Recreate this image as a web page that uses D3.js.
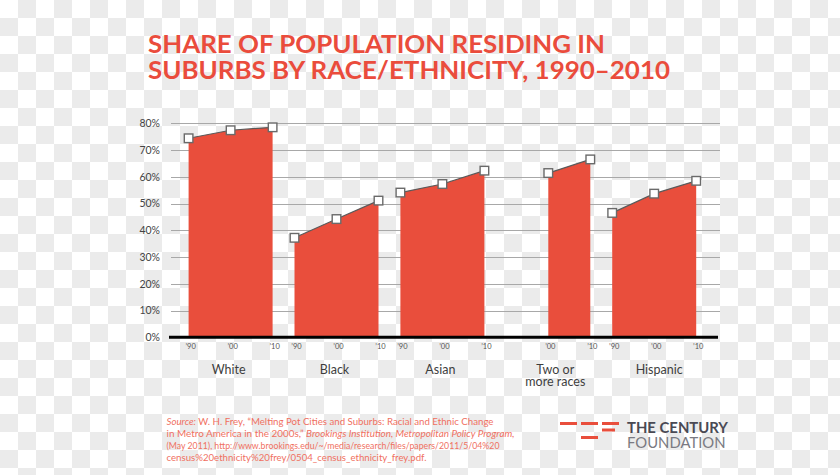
<!DOCTYPE html>
<html><head><meta charset="utf-8">
<script src="https://cdn.jsdelivr.net/npm/d3@7/dist/d3.min.js"></script>
<style>html,body{margin:0;padding:0;overflow:hidden;background:#fff}svg{display:block}</style>
</head><body>
<svg id="c" width="840" height="475"></svg>
<script>
// ---- data ----
const groups = ["White", "Black", "Asian", "Two or more races", "Hispanic"];
const groupLabels = [["White"], ["Black"], ["Asian"], ["Two or", "more races"], ["Hispanic"]];
const years = [1990, 2000, 2010];
const yearLabels = ["\u201990", "\u201900", "\u201910"];
const white = [74.4, 77.4, 78.5];
const black = [37.2, 44.2, 51.1];
const asian = [54.1, 57.3, 62.3];
const twoOrMore = [null, 61.4, 66.5];
const hispanic = [46.5, 53.7, 58.5];
const yTicks = [0, 10, 20, 30, 40, 50, 60, 70, 80];
const titleLines = ["SHARE OF POPULATION RESIDING IN", "SUBURBS BY RACE/ETHNICITY, 1990\u20132010"];

const seriesValues = [white, black, asian, twoOrMore, hispanic];

const RED = "#e94e3c";
const svg = d3.select("#c");

// checkerboard background
const defs = svg.append("defs");
const pat = defs.append("pattern").attr("id", "chk").attr("width", 36).attr("height", 36).attr("patternUnits", "userSpaceOnUse");
pat.append("rect").attr("width", 36).attr("height", 36).attr("fill", "#ffffff");
pat.append("rect").attr("x", 18).attr("y", 0).attr("width", 18).attr("height", 18).attr("fill", "#ebebeb");
pat.append("rect").attr("x", 0).attr("y", 18).attr("width", 18).attr("height", 18).attr("fill", "#ebebeb");
svg.append("rect").attr("width", 840).attr("height", 475).attr("fill", "url(#chk)");

// title
const title = svg.append("text").attr("font-family", "Lato, sans-serif").attr("font-weight", 700)
  .attr("font-size", 24).attr("fill", "#ea4c3c");
title.selectAll("tspan").data(titleLines).join("tspan")
  .attr("x", 148).attr("y", (d, i) => 52.5 + i * 26).text(d => d);
const tl = [457, 522];
title.selectAll("tspan").attr("textLength", (d, i) => tl[i]).attr("lengthAdjust", "spacingAndGlyphs");

// scales
const y = d3.scaleLinear().domain([0, 80]).range([337.3, 123.3]);
const xGroup = d3.scaleBand().domain(groups).range([188.6, 696.2]).paddingInner(0.2068).paddingOuter(0);
const xYear = d3.scalePoint().domain(years).range([0, xGroup.bandwidth()]);

// gridlines + y labels
const grid = svg.append("g");
grid.selectAll("line").data(yTicks.filter(t => t > 0)).join("line")
  .attr("x1", 171).attr("x2", 720)
  .attr("y1", d => Math.round(y(d)) + 0.5).attr("y2", d => Math.round(y(d)) + 0.5)
  .attr("stroke", "#a8a8a8").attr("stroke-width", 1);
grid.selectAll("text").data(yTicks).join("text")
  .attr("x", 160).attr("y", d => y(d) + 3.8).attr("text-anchor", "end")
  .attr("font-family", "Lato, sans-serif").attr("font-size", 10.5).attr("fill", "#444")
  .text(d => d + "%");

// areas
const pts = groups.map((g, gi) => years.map((yr, yi) => ({g, yr, yi, v: seriesValues[gi][yi]})).filter(p => p.v != null));
const area = d3.area().x(d => xGroup(d.g) + xYear(d.yr)).y0(y(0)).y1(d => y(d.v));
const line = d3.line().x(d => xGroup(d.g) + xYear(d.yr)).y(d => y(d.v));
const gArea = svg.append("g");
gArea.selectAll("path.a").data(pts).join("path").attr("class", "a").attr("d", area).attr("fill", RED);
gArea.selectAll("path.l").data(pts).join("path").attr("class", "l").attr("d", line)
  .attr("fill", "none").attr("stroke", "#5a5a5a").attr("stroke-width", 1.2);

// baseline axis
svg.append("line").attr("x1", 169).attr("x2", 718).attr("y1", y(0)).attr("y2", y(0))
  .attr("stroke", "#000").attr("stroke-width", 3);

// markers
const flat = pts.flat();
svg.append("g").selectAll("rect").data(flat).join("rect")
  .attr("x", d => xGroup(d.g) + xYear(d.yr) - 4.3).attr("y", d => y(d.v) - 4.3)
  .attr("width", 8.6).attr("height", 8.6)
  .attr("fill", "#fff").attr("stroke", "#6a6a6a").attr("stroke-width", 1.4);

// year tick labels
svg.append("g").selectAll("text").data(flat).join("text")
  .attr("x", d => xGroup(d.g) + xYear(d.yr) + 2).attr("y", 348.5).attr("text-anchor", "middle")
  .attr("font-family", "Lato, sans-serif").attr("font-size", 7.5).attr("fill", "#555")
  .text(d => yearLabels[d.yi]);

// category labels
const cat = svg.append("g").selectAll("text").data(groups).join("text")
  .attr("text-anchor", "middle").attr("font-family", "Lato, sans-serif").attr("font-size", 12.5).attr("fill", "#3e3e3e");
cat.each(function(g, gi) {
  d3.select(this).selectAll("tspan").data(groupLabels[gi]).join("tspan")
    .attr("x", xGroup(g) + xGroup.bandwidth() / 2 - 2 + (gi === 3 ? 9 : 0) + (gi === 4 ? 7 : 0))
    .attr("y", (d, i) => 374 + i * 12.3).text(d => d);
});

// source note
const SRC = "#f0705f";
const src = svg.append("g").attr("font-family", "Lato, sans-serif").attr("font-size", 8.6).attr("fill", SRC);
const srcLines = [
  [["Source:", true], [" W. H. Frey, \u201cMelting Pot Cities and Suburbs: Racial and Ethnic Change", false]],
  [["in Metro America in the 2000s,\u201d ", false], ["Brookings Institution, Metropolitan Policy Program,", true]],
  [["(May 2011), http://www.brookings.edu/~/media/research/files/papers/2011/5/04%20", false]],
  [["census%20ethnicity%20frey/0504_census_ethnicity_frey.pdf.", false]]
];
const srcW = [327, 348, 333, 260];
srcLines.forEach((ln, i) => {
  const t = src.append("text").attr("x", 166.5).attr("y", 424.5 + i * 12)
    .attr("textLength", srcW[i]).attr("lengthAdjust", "spacingAndGlyphs");
  ln.forEach(([s, it]) => t.append("tspan").attr("font-style", it ? "italic" : "normal").text(s));
});

// logo
const logo = svg.append("g");
const bars = [[560, 422, 17], [581, 422, 17], [602, 422, 17], [602, 428.5, 13], [581, 436, 17]];
logo.selectAll("rect").data(bars).join("rect")
  .attr("x", d => d[0]).attr("y", d => d[1]).attr("width", d => d[2]).attr("height", 3).attr("fill", RED);
logo.append("text").attr("x", 627).attr("y", 433).attr("font-family", "Lato, sans-serif").attr("font-weight", 700)
  .attr("font-size", 15).attr("fill", "#4a4a54").attr("textLength", 101).attr("lengthAdjust", "spacingAndGlyphs").text("THE CENTURY");
logo.append("text").attr("x", 627).attr("y", 447.5).attr("font-family", "Lato, sans-serif").attr("font-weight", 400)
  .attr("font-size", 15).attr("fill", "#7a7a82").attr("textLength", 98.5).attr("lengthAdjust", "spacingAndGlyphs").text("FOUNDATION");
</script>
</body></html>
